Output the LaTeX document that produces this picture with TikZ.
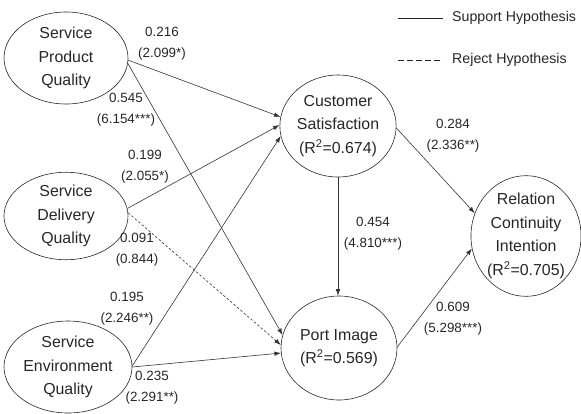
\documentclass[tikz,border=0pt]{standalone}
\usepackage{fontspec}
\setmainfont{Liberation Sans}
\usetikzlibrary{shapes.geometric,arrows.meta}
\tikzset{
  construct/.style={ellipse, draw=black!85, line width=0.6pt, inner sep=0pt, align=center,
    font=\fontsize{15.9}{23.5}\selectfont, text=black!85},
  path/.style={draw=black!80, line width=0.6pt, -{Latex[length=6.5pt,width=4.5pt]}},
  reject/.style={path, dash pattern=on 2.5pt off 2pt},
  coef/.style={align=center, inner sep=0pt, font=\fontsize{13.4}{21}\selectfont, text=black!85},
  legtext/.style={anchor=west, inner sep=0pt, font=\fontsize{14.2}{17}\selectfont, text=black!85},
}
\begin{document}
\begin{tikzpicture}[x=1pt,y=-1pt]
\useasboundingbox (0,0) rectangle (581,413);
% constructs
\node[construct, minimum width=124pt, minimum height=92pt] (spq) at (66,58) {Service\\Product\\Quality};
\node[construct, minimum width=124pt, minimum height=84pt] (sdq) at (66,216) {Service\\Delivery\\Quality};
\node[construct, minimum width=128pt, minimum height=92pt] (seq) at (68,367) {Service\\Environment\\Quality};
\node[construct, minimum width=116pt, minimum height=102pt] (cs) at (338,126) {Customer\\Satisfaction\\(R\textsuperscript{2}=0.674)};
\node[construct, minimum width=116pt, minimum height=104pt] (pi) at (339,348) {Port Image\\(R\textsuperscript{2}=0.569)};
\node[construct, minimum width=108pt, minimum height=106pt] (rci) at (526,236) {Relation\\Continuity\\Intention\\(R\textsuperscript{2}=0.705)};
% paths
\draw[path] (spq.-2) -- (cs.171);
\draw[path] (spq.-5) -- (pi.167);
\draw[path] (sdq.7) -- (cs.179);
\draw[reject] (sdq.3) -- (pi.177);
\draw[path] (seq.1) -- (cs.190);
\draw[path] (seq.0) -- (pi.185);
\draw[path] (cs.south) -- (cs.south |- pi.north);
\draw[path] (cs.-2) -- (rci.156);
\draw[path] (pi.1) -- (rci.193);
% coefficients
\node[coef] (c1) at (162,44) {0.216\\(2.099*)};
\node[coef] (c2) at (126,110) {0.545\\(6.154***)};
\node[coef] (c3) at (145,167) {0.199\\(2.055*)};
\node[coef] (c4) at (137,250) {0.091\\(0.844)};
\node[coef] (c5) at (127,309) {0.195\\(2.246**)};
\node[coef] (c6) at (152,388) {0.235\\(2.291**)};
\node[coef] (c7) at (453,136) {0.284\\(2.336**)};
\node[coef] (c8) at (373,234) {0.454\\(4.810***)};
\node[coef] (c9) at (453,319) {0.609\\(5.298***)};
% legend
\coordinate (s1) at (398,18);
\coordinate (s2) at (443,18);
\coordinate (r1) at (398,60);
\coordinate (r2) at (443,60);
\draw[black!85, line width=0.7pt] (s1) -- (s2);
\draw[black!85, line width=0.7pt, dash pattern=on 5.5pt off 3.5pt] (r1) -- (r2);
\node[legtext] (ls) at (452,18) {Support Hypothesis};
\node[legtext] (lr) at (452,60) {Reject Hypothesis};
\end{tikzpicture}
\end{document}
